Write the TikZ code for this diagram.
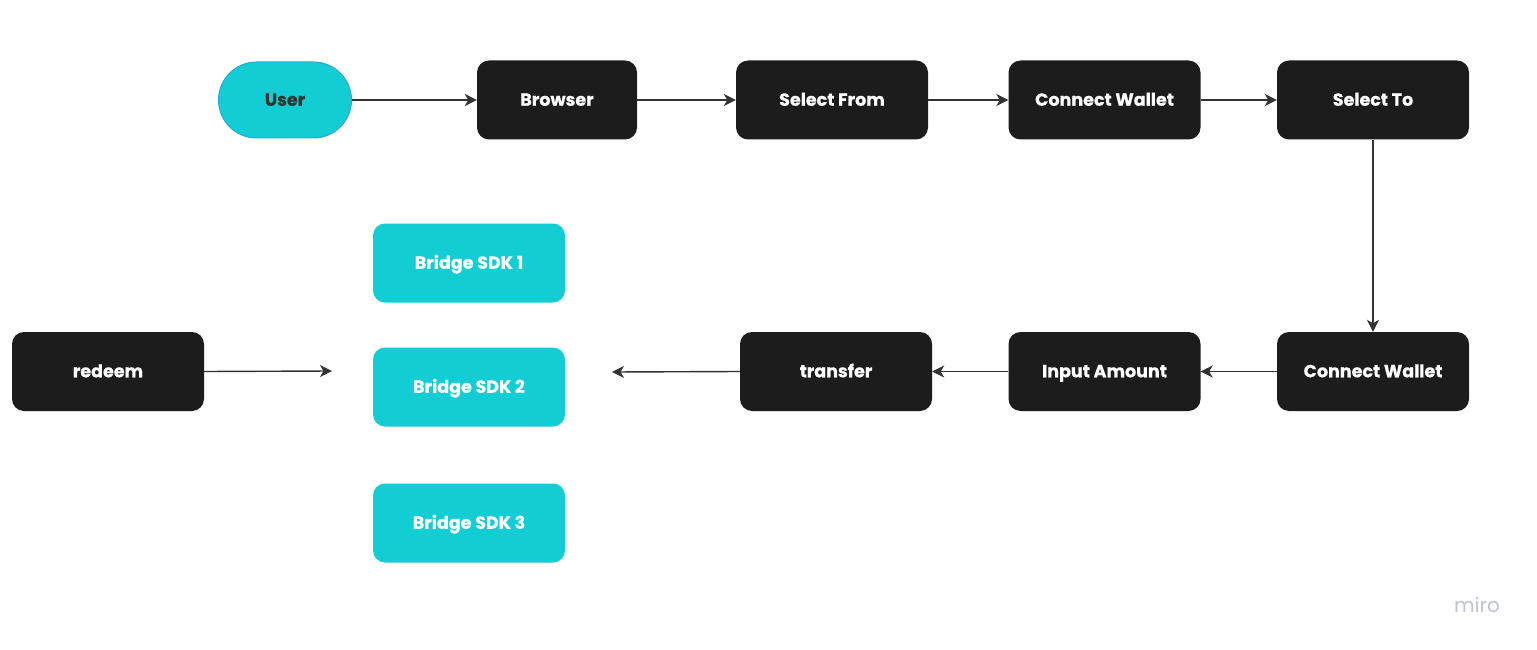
\documentclass[tikz,border=0pt]{standalone}
\usepackage{fontspec}
\setmainfont{Poppins}[BoldFeatures={FakeBold=0.6}]
\usetikzlibrary{arrows.meta}

\definecolor{sdkcyan}{HTML}{12CDD4}
\definecolor{userline}{HTML}{2AA8D8}
\definecolor{boxblack}{HTML}{1C1C1C}
\definecolor{linegray}{HTML}{333333}
\definecolor{mirogray}{HTML}{BFC3CE}

\begin{document}
\begin{tikzpicture}[x=1pt,y=-1pt,
        stepbox/.style={rectangle, rounded corners=12pt, fill=boxblack, text=white,
            minimum width=192pt, minimum height=79pt, text height=12.5pt, text depth=1pt,
            font=\bfseries\fontsize{17.5}{20}\selectfont},
        sdkbox/.style={stepbox, fill=sdkcyan},
        userbox/.style={rectangle, rounded corners=38pt, fill=sdkcyan, draw=userline, line width=1pt,
            text=boxblack!90, minimum width=133pt, minimum height=76pt, text height=12.5pt, text depth=1pt,
            font=\bfseries\fontsize{17.5}{20}\selectfont},
        flow/.style={draw=linegray, line width=1.4pt, -{Stealth[length=12pt,width=12pt,inset=3.5pt]}}]
        % Fix the page to the size of the board
        \useasboundingbox (0,0) rectangle (1537,650);

        % Top row
        \node[userbox] (user) at (285,100) {User};
        \node[stepbox, minimum width=160pt] (browser) at (557,100) {Browser};
        \node[stepbox] (selfrom) at (832,100) {Select From};
        \node[stepbox] (wallet1) at (1104.5,100) {Connect Wallet};
        \node[stepbox] (selto) at (1373,100) {Select To};

        % Bottom row
        \node[stepbox] (wallet2) at (1373,371.5) {Connect Wallet};
        \node[stepbox] (amount) at (1104.5,371.5) {Input Amount};
        \node[stepbox] (transfer) at (836,371.5) {transfer};
        \node[stepbox] (redeem) at (108,371.5) {redeem};

        % The bridge SDKs
        \node[sdkbox] (sdk1) at (469,263) {Bridge SDK 1};
        \node[sdkbox] (sdk2) at (469,387) {Bridge SDK 2};
        \node[sdkbox] (sdk3) at (469,523) {Bridge SDK 3};

        % Free ends of the two last arrows
        \coordinate (to_sdk_r) at (612,372);
        \coordinate (to_sdk_l) at (332,371);

        % Draw the flow
        \draw[flow] (user) -- (browser);
        \draw[flow] (browser) -- (selfrom);
        \draw[flow] (selfrom) -- (wallet1);
        \draw[flow] (wallet1) -- (selto);
        \draw[flow] (selto) -- (wallet2);
        \draw[flow] (wallet2) -- (amount);
        \draw[flow] (amount) -- (transfer);
        \draw[flow] (transfer.west) -- (to_sdk_r);
        \draw[flow] (redeem.east) -- (to_sdk_l);

        % Board mark
        \node[text=mirogray, font=\fontsize{20}{24}\selectfont] (miro) at (1477,605) {miro};
    \end{tikzpicture}
\end{document}
